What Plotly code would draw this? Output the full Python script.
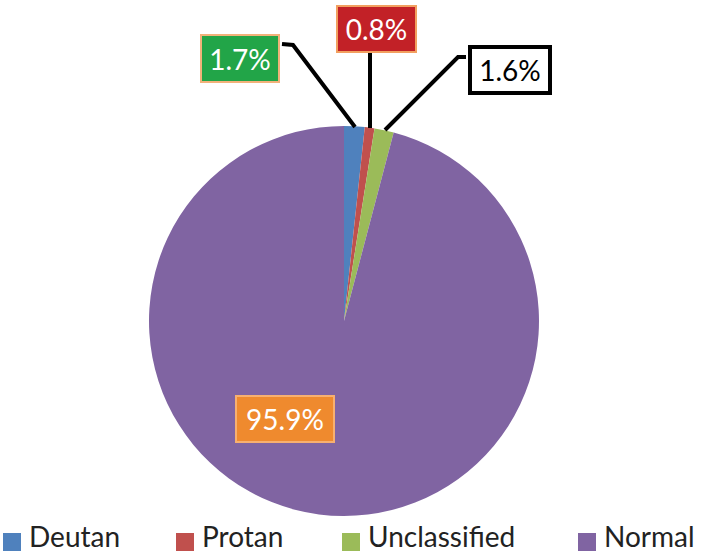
import plotly.graph_objects as go

# Data
categories = ["Deutan", "Protan", "Unclassified", "Normal"]
shares = [1.7, 0.8, 1.6, 95.9]
slice_colors = ["#4F81BD", "#C0504D", "#9BBB59", "#8064A2"]

W, H = 703, 555
FONT = "Lato, Open Sans, sans-serif"


def px(x, y):
    # pixel coords -> paper coords
    return x / W, 1 - y / H


fig = go.Figure()

fig.add_trace(go.Pie(
    labels=categories,
    values=shares,
    sort=False,
    direction="clockwise",
    rotation=0,
    textinfo="none",
    hoverinfo="label+percent",
    marker=dict(colors=slice_colors, line=dict(width=0)),
    domain=dict(x=[149 / W, 539 / W], y=[1 - 516 / H, 1 - 126 / H]),
    showlegend=False,
))

# label boxes: (center px, size px, fill, border, text color, border width)
box_styles = [
    ((240, 58), (80, 49), "#22A548", "#F2B27A", "white", 2),
    ((377, 29), (81, 48), "#C22127", "#F2A060", "white", 2),
    ((510, 70), (84, 50), "white", "black", "black", 4),
    ((285, 419), (100, 48), "#EF8A2E", "#F7B070", "white", 2),
]

for val, (c, size, fill, border, tcol, bw) in zip(shares, box_styles):
    x, y = px(*c)
    fig.add_annotation(
        x=x, y=y, xref="paper", yref="paper",
        text=f"{val:.1f}%", showarrow=False,
        font=dict(family=FONT, size=28, color=tcol),
        bgcolor=fill, bordercolor=border, borderwidth=bw, borderpad=0,
        width=size[0] - 2 * bw, height=size[1] - 2 * bw,
        xanchor="center", yanchor="middle", align="center", valign="middle",
    )

# leader lines
leaders = [
    [(282, 44), (293, 45), (355, 127)],
    [(370, 53), (370, 128)],
    [(466, 57), (458, 57), (385, 130)],
]
for pts in leaders:
    path = ""
    for i, (a, b) in enumerate(pts):
        x, y = px(a, b)
        path += ("M" if i == 0 else "L") + f"{x},{y} "
    fig.add_shape(type="path", xref="paper", yref="paper", path=path.strip(),
                  line=dict(color="black", width=4))

# legend (drawn by hand to match spacing)
legend_x = [3, 176, 342, 578]
for name, col, lx in zip(categories, slice_colors, legend_x):
    x0, y0 = px(lx, 551)
    x1, y1 = px(lx + 18, 533)
    fig.add_shape(type="rect", xref="paper", yref="paper",
                  x0=x0, y0=y0, x1=x1, y1=y1,
                  fillcolor=col, line=dict(width=0))
    tx, ty = px(lx + 25, 554)
    fig.add_annotation(
        x=tx, y=ty, xref="paper", yref="paper", text=name, showarrow=False,
        font=dict(family=FONT, size=28, color="#222222"),
        xanchor="left", yanchor="bottom", borderpad=0,
    )

fig.update_layout(
    width=W, height=H,
    margin=dict(l=0, r=0, t=0, b=0, autoexpand=False),
    paper_bgcolor="white",
    plot_bgcolor="white",
    showlegend=False,
)

# drop the default 8px body margin so the figure sits at the window corner
fig.write_html("out.html", config={"displayModeBar": False},
               post_script="document.body.style.margin='0';")
